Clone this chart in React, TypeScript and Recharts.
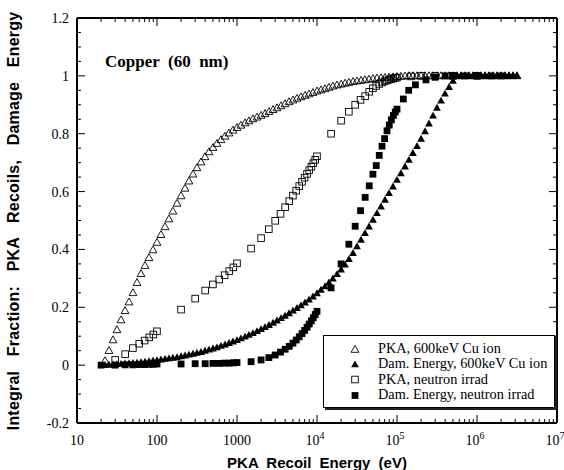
import React from 'react';
import { ScatterChart, Scatter, XAxis, YAxis, Legend } from 'recharts';

// 600 keV Cu ion: energies (eV) and integral fractions
const ionEnergy = [22.4, 25.1, 28.2, 31.6, 35.5, 39.8, 44.7, 50.1, 56.2, 63.1, 70.8, 79.4, 89.1,
  100, 112, 126, 141, 158, 178, 200, 224, 251, 282, 316, 355, 398, 447, 501, 562, 631, 708, 794, 891,
  1000, 1120, 1260, 1410, 1580, 1780, 2000, 2240, 2510, 2820, 3160, 3550, 3980, 4470, 5010, 5620, 6310, 7080, 7940, 8910,
  10000, 11200, 12600, 14100, 15800, 17800, 20000, 22400, 25100, 28200, 31600, 35500, 39800, 44700, 50100, 56200, 63100, 70800, 79400, 89100,
  100000, 112000, 126000, 141000, 158000, 178000, 200000, 224000, 251000, 282000, 316000, 355000, 398000, 447000, 501000, 562000, 631000, 708000, 794000, 891000,
  1000000, 1120000, 1260000, 1410000, 1580000, 1780000, 2000000, 2240000, 2510000, 2820000, 3160000];

const pkaIon = [0.015, 0.05, 0.087, 0.122, 0.156, 0.188, 0.218, 0.25, 0.285, 0.316, 0.344, 0.371, 0.398,
  0.424, 0.451, 0.478, 0.505, 0.532, 0.559, 0.585, 0.611, 0.636, 0.66, 0.682, 0.702, 0.72, 0.737, 0.752, 0.766, 0.779, 0.791, 0.802, 0.812,
  0.821, 0.829, 0.837, 0.844, 0.851, 0.857, 0.863, 0.869, 0.876, 0.883, 0.889, 0.896, 0.903, 0.91, 0.916, 0.922, 0.927, 0.932, 0.937, 0.942,
  0.947, 0.951, 0.955, 0.96, 0.964, 0.968, 0.971, 0.974, 0.977, 0.98, 0.982, 0.984, 0.986, 0.988, 0.99, 0.992, 0.993, 0.994, 0.995, 0.996,
  0.997, 0.998, 0.999, 1, 1, 1, 1, 1, 1, 1, 1, 1, 1, 1, 1, 1, 1, 1, 1, 1,
  1, 1, 1, 1, 1, 1, 1, 1, 1, 1, 1];

const damIon = [0, 0.001, 0.002, 0.003, 0.004, 0.005, 0.006, 0.007, 0.008, 0.01, 0.011, 0.013, 0.015,
  0.017, 0.019, 0.021, 0.023, 0.025, 0.027, 0.03, 0.033, 0.036, 0.039, 0.042, 0.045, 0.049, 0.053, 0.057, 0.061, 0.066, 0.071, 0.076, 0.081,
  0.086, 0.092, 0.098, 0.104, 0.11, 0.117, 0.124, 0.131, 0.138, 0.146, 0.154, 0.162, 0.17, 0.179, 0.188, 0.197, 0.206, 0.216, 0.226, 0.237,
  0.248, 0.26, 0.272, 0.285, 0.299, 0.314, 0.33, 0.347, 0.366, 0.387, 0.41, 0.433, 0.456, 0.479, 0.502, 0.525, 0.548, 0.571, 0.594, 0.617,
  0.64, 0.663, 0.686, 0.709, 0.733, 0.757, 0.782, 0.808, 0.835, 0.862, 0.889, 0.914, 0.938, 0.961, 0.982, 1, 1, 1, 1, 1,
  1, 1, 1, 1, 1, 1, 1, 1, 1, 1, 1];

// neutron irradiation
const pkaNeutronEnergy = [30, 40, 50, 60, 70, 80, 90, 100,
  200, 300, 400, 500, 600, 700, 800, 900, 1000,
  1500, 2000, 2500, 3000, 3500, 4000, 4500, 5000, 5500, 6000, 6500, 7000, 7500, 8000, 8500, 9000, 9500, 10000,
  15000, 20000, 25000, 30000, 35000, 40000, 45000, 50000, 55000, 60000, 65000, 70000, 75000, 80000, 85000, 90000, 95000, 100000,
  150000, 200000, 300000, 500000, 1000000];
const pkaNeutron = [0.018, 0.038, 0.059, 0.074, 0.085, 0.096, 0.106, 0.117,
  0.192, 0.23, 0.258, 0.279, 0.296, 0.311, 0.325, 0.338, 0.352,
  0.403, 0.439, 0.47, 0.499, 0.523, 0.546, 0.567, 0.586, 0.603, 0.619, 0.634, 0.648, 0.661, 0.674, 0.686, 0.698, 0.71, 0.722,
  0.8, 0.845, 0.876, 0.9, 0.917, 0.93, 0.945, 0.957, 0.965, 0.972, 0.977, 0.981, 0.984, 0.987, 0.989, 0.991, 0.993, 0.994,
  0.998, 1, 1, 1, 1];

const damNeutronEnergy = [20, 30, 40, 50, 60, 70, 80, 90, 100,
  200, 300, 400, 500, 600, 700, 800, 900, 1000,
  1500, 2000, 2500, 3000, 3500, 4000, 4500, 5000, 5500, 6000, 6500, 7000, 7500, 8000, 8500, 9000, 9500, 10000,
  15000, 20000, 25000, 30000, 35000, 40000, 45000, 50000, 55000, 60000, 65000, 70000, 75000, 80000, 85000, 90000, 95000, 100000,
  120000, 140000, 170000, 230000, 300000, 400000, 500000, 700000, 1000000, 1500000, 2000000];
const damNeutron = [0, 0, 0.001, 0.001, 0.002, 0.002, 0.003, 0.003, 0.004,
  0.004, 0.005, 0.005, 0.006, 0.006, 0.007, 0.007, 0.008, 0.009,
  0.012, 0.018, 0.026, 0.035, 0.045, 0.055, 0.065, 0.076, 0.087, 0.098, 0.109, 0.12, 0.131, 0.142, 0.153, 0.164, 0.175, 0.186,
  0.267, 0.35, 0.418, 0.48, 0.534, 0.58, 0.62, 0.66, 0.69, 0.725, 0.757, 0.783, 0.81, 0.83, 0.848, 0.863, 0.875, 0.885,
  0.92, 0.95, 0.969, 0.986, 0.995, 1, 1, 1, 1, 1, 1];

const xMajor = [10, 100, 1000, 10000, 100000, 1000000, 10000000];
const xMinor = xMajor.slice(0, -1).flatMap((d) => [2, 3, 4, 5, 6, 7, 8, 9].map((m) => m * d));
const yMajor = [-0.2, 0, 0.2, 0.4, 0.6, 0.8, 1, 1.2];
const yMinor = [-0.15, -0.1, -0.05, 0.05, 0.1, 0.15, 0.25, 0.3, 0.35, 0.45, 0.5, 0.55, 0.65, 0.7, 0.75, 0.85, 0.9, 0.95, 1.05, 1.1, 1.15];

const legendNames = ['PKA, 600keV Cu ion', 'Dam. Energy, 600keV Cu ion', 'PKA, neutron irrad', 'Dam. Energy, neutron irrad'];

const pair = (es: number[], fs: number[]) => es.map((e, i) => ({ e, f: fs[i] }));
const pkaIonData = pair(ionEnergy, pkaIon);
const damIonData = pair(ionEnergy, damIon);
const pkaNeutronData = pair(pkaNeutronEnergy, pkaNeutron);
const damNeutronData = pair(damNeutronEnergy, damNeutron);

const serif = "'Liberation Serif', 'Times New Roman', serif";
const sans = "'Liberation Sans', Arial, Helvetica, sans-serif";

const tri = (cx: number, cy: number) => `${cx},${cy - 4.1} ${cx - 3.9},${cy + 2.8} ${cx + 3.9},${cy + 2.8}`;
const OpenTriangle = ({ cx, cy }: any) => <polygon points={tri(cx, cy)} fill="none" stroke="#000" strokeWidth={0.9} />;
const FilledTriangle = ({ cx, cy }: any) => <polygon points={tri(cx, cy)} fill="#000" />;
const OpenSquare = ({ cx, cy }: any) => <rect x={cx - 3.3} y={cy - 3.3} width={6.6} height={6.6} fill="none" stroke="#000" strokeWidth={0.9} />;
const FilledSquare = ({ cx, cy }: any) => <rect x={cx - 3.4} y={cy - 3.4} width={6.8} height={6.8} fill="#000" />;
const legendShapes = [OpenTriangle, FilledTriangle, OpenSquare, FilledSquare];

const BottomTick = ({ x, y, payload }: any) => {
  const v = payload.value;
  const i = xMajor.indexOf(v);
  return (
    <g>
      <line x1={x} y1={y} x2={x} y2={y - (i >= 0 ? 8 : 4)} stroke="#000" />
      {i >= 0 && i < 3 && (
        <text x={x} y={y + 22} textAnchor="middle" fontFamily={serif} fontSize={14} fill="#000">{v}</text>
      )}
      {i >= 3 && (
        <text x={x - 2} y={y + 22} textAnchor="middle" fontFamily={serif} fontSize={14} fill="#000">
          10<tspan dy={-6} fontSize={10}>{i + 1}</tspan>
        </text>
      )}
    </g>
  );
};

const TopTick = ({ x, y, payload }: any) => (
  <line x1={x} y1={y} x2={x} y2={y + (xMajor.includes(payload.value) ? 8 : 4)} stroke="#000" />
);

const LeftTick = ({ x, y, payload }: any) => {
  const major = yMajor.includes(payload.value);
  return (
    <g>
      <line x1={x} y1={y} x2={x + (major ? 8 : 4)} y2={y} stroke="#000" />
      {major && (
        <text x={x - 8} y={y + 5} textAnchor="end" fontFamily={serif} fontSize={14} fill="#000">{String(payload.value)}</text>
      )}
    </g>
  );
};

const RightTick = ({ x, y, payload }: any) => (
  <line x1={x} y1={y} x2={x - (yMajor.includes(payload.value) ? 8 : 4)} y2={y} stroke="#000" />
);

const LegendBox = () => (
  <div style={{ width: 232, height: 73, border: '1px solid #000', background: '#fff', boxShadow: '2px 2px 0 #222', boxSizing: 'border-box', paddingTop: 5, fontFamily: serif, fontSize: 14.3, color: '#000' }}>
    {legendNames.map((name, i) => {
      const Shape = legendShapes[i];
      return (
        <div key={name} style={{ display: 'flex', alignItems: 'center', height: 15.3, lineHeight: '15.3px', whiteSpace: 'nowrap' }}>
          <svg width={10} height={10} style={{ marginLeft: 26, marginRight: 18, flex: 'none' }}>
            <Shape cx={5} cy={5.5} />
          </svg>
          <span>{name}</span>
        </div>
      );
    })}
  </div>
);

const App: React.FC = () => {
  return (
    <div style={{ position: 'absolute', left: 0, top: 0, background: '#fff' }}>
      <ScatterChart width={564} height={470} margin={{ top: 17, right: 6, bottom: 17, left: 17 }}>
        <XAxis
          dataKey="e" type="number" scale="log" domain={[10, 10000000]} allowDataOverflow
          ticks={[...xMajor, ...xMinor]} interval={0} tick={<BottomTick />} tickLine={false}
          tickSize={0} tickMargin={0} height={30} axisLine={{ stroke: '#000', strokeWidth: 2 }}
          label={{
            content: () => (
              <text x={317} y={468} textAnchor="middle" fontFamily={sans} fontWeight="bold" fontSize={15} wordSpacing={4} fill="#000">
                PKA Recoil Energy (eV)
              </text>
            ),
          }}
        />
        <XAxis
          xAxisId="top" orientation="top" dataKey="e" type="number" scale="log" domain={[10, 10000000]} allowDataOverflow
          ticks={[...xMajor, ...xMinor]} interval={0} tick={<TopTick />} tickLine={false}
          tickSize={0} tickMargin={0} height={1} axisLine={{ stroke: '#000', strokeWidth: 2 }}
          label={{
            content: () => (
              <text x={105} y={67} fontFamily={serif} fontWeight="bold" fontSize={17} style={{ whiteSpace: 'pre' }} fill="#000">
                {'Copper  (60  nm)'}
              </text>
            ),
          }}
        />
        <YAxis
          dataKey="f" type="number" domain={[-0.2, 1.2]} allowDataOverflow
          ticks={[...yMajor, ...yMinor]} interval={0} tick={<LeftTick />} tickLine={false}
          tickSize={0} tickMargin={0} width={60} axisLine={{ stroke: '#000', strokeWidth: 2 }}
          label={{
            content: () => (
              <text x={19} y={221} transform="rotate(-90 19 221)" textAnchor="middle" fontFamily={sans} fontWeight="bold" fontSize={16} wordSpacing={10} letterSpacing={0.2} fill="#000">
                Integral Fraction: PKA Recoils, Damage Energy
              </text>
            ),
          }}
        />
        <YAxis
          yAxisId="r" orientation="right" dataKey="f" type="number" domain={[-0.2, 1.2]} allowDataOverflow
          ticks={[...yMajor, ...yMinor]} interval={0} tick={<RightTick />} tickLine={false}
          tickSize={0} tickMargin={0} width={1} axisLine={{ stroke: '#000', strokeWidth: 2 }}
        />
        <Scatter name="PKA, neutron irrad" data={pkaNeutronData} shape={OpenSquare} isAnimationActive={false} />
        <Scatter name="Dam. Energy, neutron irrad" data={damNeutronData} shape={FilledSquare} isAnimationActive={false} />
        <Scatter name="Dam. Energy, 600keV Cu ion" data={damIonData} shape={FilledTriangle} isAnimationActive={false} />
        <Scatter name="PKA, 600keV Cu ion" data={pkaIonData} shape={OpenTriangle} isAnimationActive={false} />
        <Legend
          layout="vertical" align="center" verticalAlign="middle"
          content={() => <LegendBox />}
          wrapperStyle={{ left: 323, top: 335, width: 234, height: 75 }}
        />
      </ScatterChart>
    </div>
  );
};

export default App;
